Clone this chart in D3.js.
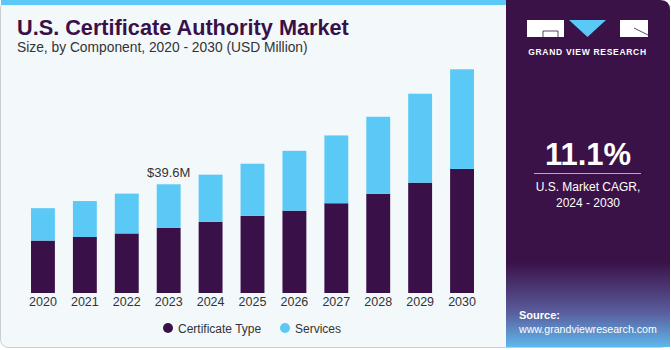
<!DOCTYPE html>
<html>
<head>
<meta charset="utf-8">
<script src="https://cdn.jsdelivr.net/npm/d3@7"></script>
<style>
  body { margin: 0; background: #fff; }
  svg { display: block; font-family: "Liberation Sans", Arial, sans-serif; }
</style>
</head>
<body>
<div id="chart"></div>
<script>
var years = ["2020","2021","2022","2023","2024","2025","2026","2027","2028","2029","2030"]
var certificateType = [19.1, 20.4, 21.7, 23.7, 25.9, 28.1, 30.0, 32.7, 36.1, 40.2, 45.2]
var services = [11.8, 13.1, 14.5, 15.9, 17.2, 19.0, 21.8, 24.7, 28.1, 32.4, 36.3]
var seriesNames = ["Certificate Type", "Services"]
var colors = ["#3a1049", "#5bc9f6"]
var callout = {year: "2023", text: "$39.6M"}

var W = 671, H = 350

var svg = d3.select("#chart").append("svg")
  .attr("width", W)
  .attr("height", H)

// background + frame
svg.append("rect").attr("x", 0.5).attr("y", 0.5).attr("width", W - 2).attr("height", H - 3)
  .attr("rx", 8).attr("fill", "#f3f8fb").attr("stroke", "#c9cdd1")
svg.append("rect").attr("x", 1).attr("y", 0).attr("width", 506).attr("height", 5).attr("fill", "#5bc9f6")

// right panel
var defs = svg.append("defs")
var grad = defs.append("linearGradient").attr("id", "src").attr("x1", 0).attr("y1", 0).attr("x2", 0).attr("y2", 1)
grad.append("stop").attr("offset", "0%").attr("stop-color", "#3a1248")
grad.append("stop").attr("offset", "30%").attr("stop-color", "#4b3672")
grad.append("stop").attr("offset", "60%").attr("stop-color", "#5a5e9e")
grad.append("stop").attr("offset", "100%").attr("stop-color", "#5fb8ec")

svg.append("path")
  .attr("d", "M506,0 H660 Q670,0 670,10 V347 H506 Z")
  .attr("fill", "#3a1248")
svg.append("rect").attr("x", 506).attr("y", 262).attr("width", 164).attr("height", 85).attr("fill", "url(#src)")

// logo
var logo = svg.append("g")
logo.append("rect").attr("x", 527).attr("y", 20).attr("width", 37).attr("height", 17).attr("fill", "#fff")
logo.append("path").attr("d", "M543,31 V37 M543,31 H558 V37").attr("stroke", "#3a1248").attr("fill", "none").attr("stroke-width", 0.8)
logo.append("path").attr("d", "M569,20 H606 L587.5,37 Z").attr("fill", "#5bc9f6")
logo.append("rect").attr("x", 620).attr("y", 20).attr("width", 28).attr("height", 17).attr("fill", "#fff")
logo.append("path").attr("d", "M634,28 L648,35").attr("stroke", "#3a1248").attr("stroke-width", 0.8)
logo.append("text").attr("x", 587.5).attr("y", 55).attr("text-anchor", "middle")
  .attr("fill", "#fff").attr("font-size", 8.5).attr("font-weight", "bold").attr("letter-spacing", 0.7)
  .text("GRAND VIEW RESEARCH")

// CAGR
svg.append("text").attr("x", 588).attr("y", 165).attr("text-anchor", "middle")
  .attr("fill", "#fff").attr("font-size", 31).attr("font-weight", "bold").text("11.1%")
svg.append("line").attr("x1", 534).attr("x2", 641).attr("y1", 173.5).attr("y2", 173.5)
  .attr("stroke", "#b7a9c4").attr("stroke-width", 1.2)
svg.append("text").attr("x", 588).attr("y", 191).attr("text-anchor", "middle")
  .attr("fill", "#fff").attr("font-size", 12).text("U.S. Market CAGR,")
svg.append("text").attr("x", 588).attr("y", 207).attr("text-anchor", "middle")
  .attr("fill", "#fff").attr("font-size", 12).text("2024 - 2030")

// source
svg.append("text").attr("x", 519).attr("y", 319).attr("fill", "#fff")
  .attr("font-size", 11).attr("font-weight", "bold").text("Source:")
svg.append("text").attr("x", 519).attr("y", 333).attr("fill", "#fff")
  .attr("font-size", 10.6).text("www.grandviewresearch.com")

// titles
svg.append("text").attr("x", 17).attr("y", 35).attr("fill", "#3a1049")
  .attr("font-size", 21.7).attr("font-weight", "bold").text("U.S. Certificate Authority Market")
svg.append("text").attr("x", 17).attr("y", 52).attr("fill", "#333")
  .attr("font-size", 13.8).text("Size, by Component, 2020 - 2030 (USD Million)")

// scales
var x = d3.scaleBand().domain(years).range([22, 483]).paddingInner(0.43).paddingOuter(0.215)
var y = d3.scaleLinear().domain([0, 100]).range([293, 18.5])

var data = years.map(function(yr, i) {
  return {year: yr, "Certificate Type": certificateType[i], "Services": services[i]}
})
var stacked = d3.stack().keys(seriesNames)(data)

svg.selectAll(".layer")
  .data(stacked)
  .enter().append("g")
  .attr("class", "layer")
  .attr("fill", function(d, i) { return colors[i] })
  .selectAll("rect")
  .data(function(d) { return d })
  .enter().append("rect")
  .attr("x", function(d) { return x(d.data.year) })
  .attr("y", function(d) { return y(d[1]) })
  .attr("width", x.bandwidth())
  .attr("height", function(d) { return y(d[0]) - y(d[1]) })

// x axis
var xAxis = svg.append("g")
  .attr("transform", "translate(0,293)")
  .call(d3.axisBottom(x).tickSize(0).tickPadding(4))
xAxis.select(".domain").remove()
xAxis.selectAll("text").attr("font-size", 12.5).attr("fill", "#333")
  .attr("font-family", "Liberation Sans, Arial, sans-serif")

// callout
var idx = years.indexOf(callout.year)
svg.append("text")
  .attr("x", x(callout.year) + x.bandwidth() / 2)
  .attr("y", y(certificateType[idx] + services[idx]) - 7)
  .attr("text-anchor", "middle").attr("fill", "#333").attr("font-size", 13)
  .text(callout.text)

// legend
var legendX = [168, 285]
var legend = svg.selectAll(".legend").data(seriesNames).enter().append("g")
  .attr("class", "legend")
  .attr("transform", function(d, i) { return "translate(" + legendX[i] + ",328)" })
legend.append("circle").attr("r", 5).attr("fill", function(d, i) { return colors[i] })
legend.append("text").attr("x", 10).attr("y", 4.5).attr("font-size", 12).attr("fill", "#333")
  .text(function(d) { return d })
</script>
</body>
</html>
